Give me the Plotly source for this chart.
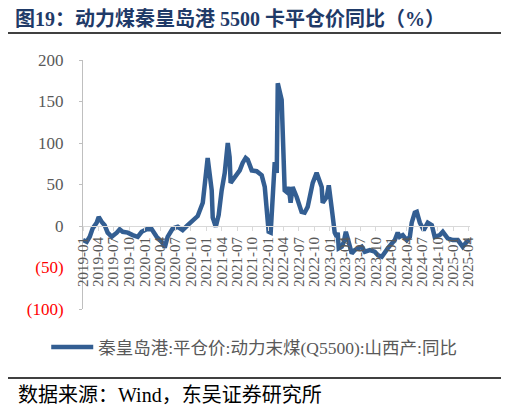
import plotly.graph_objects as go

# weekly-ish readings of the YoY series (%)
dates = [
    "2019-01-01", "2019-01-23", "2019-02-10", "2019-02-27", "2019-03-23", "2019-04-04",
    "2019-04-22", "2019-05-09", "2019-05-27", "2019-06-20", "2019-07-20", "2019-08-06",
    "2019-08-24", "2019-09-23", "2019-10-22", "2019-11-21", "2019-12-14", "2020-01-13",
    "2020-02-12", "2020-03-12", "2020-04-11", "2020-04-29", "2020-05-16", "2020-06-15",
    "2020-07-15", "2020-08-13", "2020-09-12", "2020-10-11", "2020-11-10", "2020-12-10",
    "2020-12-21", "2021-01-08", "2021-02-01", "2021-02-07", "2021-02-25", "2021-03-14",
    "2021-04-01", "2021-04-19", "2021-05-07", "2021-05-18", "2021-05-24", "2021-06-17",
    "2021-07-17", "2021-08-03", "2021-08-21", "2021-09-02", "2021-09-26", "2021-10-25",
    "2021-11-24", "2021-12-12", "2021-12-23", "2022-01-04", "2022-01-16", "2022-01-28",
    "2022-02-09", "2022-02-21", "2022-02-27", "2022-03-22", "2022-04-03", "2022-04-09",
    "2022-04-21", "2022-05-03", "2022-05-14", "2022-05-26", "2022-06-19", "2022-07-18",
    "2022-08-05", "2022-08-23", "2022-09-22", "2022-10-15", "2022-11-14", "2022-11-20",
    "2022-12-14", "2022-12-26", "2023-01-12", "2023-01-18", "2023-01-30", "2023-02-11",
    "2023-02-17", "2023-02-23", "2023-03-13", "2023-03-25", "2023-04-06", "2023-04-17",
    "2023-04-29", "2023-05-11", "2023-05-29", "2023-06-16", "2023-07-09", "2023-07-27",
    "2023-08-26", "2023-09-24", "2023-10-12", "2023-11-05", "2023-11-22", "2023-12-10",
    "2024-01-03", "2024-01-21", "2024-02-07", "2024-02-19", "2024-03-08", "2024-04-01",
    "2024-04-19", "2024-04-30", "2024-05-18", "2024-05-30", "2024-06-17", "2024-07-10",
    "2024-08-03", "2024-08-27", "2024-09-13", "2024-10-13", "2024-10-31", "2024-11-29",
    "2024-12-29", "2025-01-28", "2025-02-26", "2025-03-22", "2025-04-09",
]
yoy = [
    -17, -19, -13, -3, 4, 11,
    5, 1, -8, -13, -8, -4,
    -7, -8, -11, -13, -7, -4,
    -4, -13, -19, -26, -13, -3,
    -1, -5, 1, 7, 12, 28,
    45, 82, 43, 10, -1, 13,
    43, 64, 100, 83, 52, 58,
    67, 76, 82, 80, 67, 66,
    61, 47, 19, -7, -8, 43,
    77, 64, 172, 152, 71, 43,
    41, 47, 28, 47, 35, 17,
    16, 23, 52, 64, 47, 28,
    35, 49, 22, 11, -8, -13,
    -8, -27, -25, -19, -7, -15,
    -25, -33, -29, -27, -25, -31,
    -29, -31, -35, -37, -31, -27,
    -21, -17, -8, -13, -11, -17,
    -13, 4, 16, 17, 4, -5,
    4, 1, -13, -11, -7, -15,
    -17, -17, -25, -19, -17,
]

y_ticks = [-100, -50, 0, 50, 100, 150, 200]
y_labels = ["<span style='color:#FF0000'>(100)</span>",
            "<span style='color:#FF0000'>(50)</span>",
            "0", "50", "100", "150", "200"]

series_name = "秦皇岛港:平仓价:动力末煤(Q5500):山西产:同比"
title_text = "<b>图19：动力煤秦皇岛港 5500 卡平仓价同比（%）</b>"
source_text = "数据来源：Wind，东吴证券研究所"

serif = "Liberation Serif, Noto Sans CJK SC"

fig = go.Figure()
fig.add_trace(go.Scatter(x=dates, y=yoy, mode="lines", name=series_name,
                         line=dict(color="#335E92", width=4.5)))

# page body has an 8px margin, so the figure is 501x405 and the
# plot area sits at x 83..470, y 60..309 of the window
W, H = 501, 405
fig.update_layout(
    width=W, height=H,
    margin=dict(l=75, r=39, t=52, b=104),
    paper_bgcolor="white", plot_bgcolor="white",
    font=dict(family=serif, color="#595959", size=15),
    title=dict(text=title_text, xref="container", x=7 / W, y=1 - 11 / H,
               xanchor="left", yanchor="middle",
               font=dict(family=serif, size=20, color="#1F3A68")),
    showlegend=True,
    legend=dict(orientation="h", x=-0.095, y=-0.153, xanchor="left", yanchor="middle",
                itemwidth=42,
                font=dict(size=17.5, color="#595959"), bgcolor="rgba(0,0,0,0)"),
    xaxis=dict(
        type="date", range=["2019-01-01", "2025-04-10"],
        anchor="free", position=1 / 3,
        dtick="M3", tick0="2019-01-01", tickformat="%Y-%m", tickangle=-90,
        showgrid=False, zeroline=False,
        showline=True, linecolor="#D9D9D9", linewidth=1,
        ticks="outside", ticklen=4, tickcolor="#D9D9D9",
        tickfont=dict(size=15, color="#595959"),
    ),
    yaxis=dict(
        range=[-100, 200], tickvals=y_ticks, ticktext=y_labels,
        showgrid=False, zeroline=False,
        showline=True, linecolor="#BFBFBF", linewidth=1,
        ticks="outside", ticklen=3, tickcolor="#BFBFBF",
        ticklabelstandoff=12,
        tickfont=dict(size=17, color="#595959"),
    ),
)

# rules above the chart and above the source line
fig.add_shape(type="line", xref="paper", yref="paper",
              x0=(5 - 83) / 387, x1=(503 - 83) / 387,
              y0=(309 - 33) / 249, y1=(309 - 33) / 249,
              line=dict(color="black", width=1.5))
fig.add_shape(type="line", xref="paper", yref="paper",
              x0=(5 - 83) / 387, x1=(503 - 83) / 387,
              y0=(309 - 378) / 249, y1=(309 - 378) / 249,
              line=dict(color="black", width=1.5))

fig.add_annotation(text=source_text, xref="paper", yref="paper",
                   x=(16 - 83) / 387, y=(309 - 395) / 249,
                   xanchor="left", yanchor="middle", showarrow=False,
                   font=dict(family=serif, size=20, color="black"))

fig.write_html("out.html")
